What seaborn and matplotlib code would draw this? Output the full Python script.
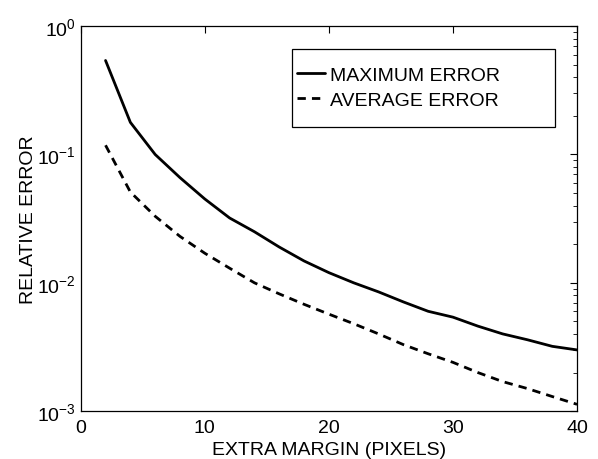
import numpy as np
import pandas as pd
import matplotlib
matplotlib.use("Agg")
import matplotlib.pyplot as plt
import seaborn as sns
from matplotlib.ticker import LogLocator, NullFormatter
from matplotlib.patches import Rectangle

margin = [2, 4, 6, 8, 10, 12, 14, 16, 18, 20, 22, 24, 26, 28, 30, 32, 34, 36, 38, 40]
max_error = [0.54, 0.178, 0.100, 0.066, 0.045, 0.032, 0.025, 0.019, 0.0148, 0.012,
             0.0100, 0.0085, 0.0071, 0.0060, 0.0054, 0.0046, 0.0040, 0.0036, 0.0032, 0.0030]
avg_error = [0.118, 0.051, 0.033, 0.023, 0.017, 0.013, 0.0100, 0.0082, 0.0068, 0.0057,
             0.0048, 0.0040, 0.0033, 0.0028, 0.0024, 0.0020, 0.0017, 0.0015, 0.0013, 0.00113]
series = ["MAXIMUM ERROR", "AVERAGE ERROR"]

df = pd.DataFrame({
    "margin": margin * 2,
    "error": max_error + avg_error,
    "series": [series[0]] * len(margin) + [series[1]] * len(margin),
})

sns.set_theme(style="white")
plt.rcParams['font.family'] = ['Liberation Sans', 'DejaVu Sans']
plt.rcParams['text.color'] = 'black'
plt.rcParams['axes.labelcolor'] = 'black'

fig = plt.figure(figsize=(5.98, 4.60), dpi=100)
ax = fig.add_axes([0.135, 0.104, 0.83, 0.837])

sns.lineplot(data=df, x="margin", y="error", style="series", style_order=series,
             dashes={series[0]: "", series[1]: (3, 2.2)},
             color="black", linewidth=2.0, ax=ax, legend=True)

ax.set_yscale("log")
ax.set_xlim(0, 40)
ax.set_ylim(1e-3, 1e0)
ax.set_xticks([0, 10, 20, 30, 40])
ax.yaxis.set_major_locator(LogLocator(base=10, numticks=10))
ax.yaxis.set_minor_locator(LogLocator(base=10, subs=np.arange(2, 10), numticks=10))
ax.yaxis.set_minor_formatter(NullFormatter())

ax.tick_params(axis="both", which="both", direction="in", top=True, right=True,
               labelsize=14, colors="black", labelcolor="black")
ax.tick_params(axis="both", which="major", length=5, width=0.8)
ax.tick_params(axis="both", which="minor", length=3, width=0.6)
ax.tick_params(axis="x", which="major", pad=6)
for s in ax.spines.values():
    s.set_color("black")
    s.set_linewidth(0.9)

ax.set_xlabel("EXTRA MARGIN (PIXELS)", fontsize=14, labelpad=3, color="black")
ax.set_ylabel("RELATIVE ERROR", fontsize=14, labelpad=0, color="black")

leg = ax.legend(loc="upper left", bbox_to_anchor=(0.435, 0.895),
                borderaxespad=0, borderpad=0, fontsize=14, frameon=False,
                handlelength=1.45, handletextpad=0.28, labelspacing=0.38,
                title=None)
for t in leg.get_texts():
    t.set_color("black")
ax.add_patch(Rectangle((0.425, 0.738), 0.531, 0.202, transform=ax.transAxes,
                       fill=False, edgecolor="black", linewidth=0.9, zorder=5))

fig.savefig("out.png", dpi=100, facecolor="white")
